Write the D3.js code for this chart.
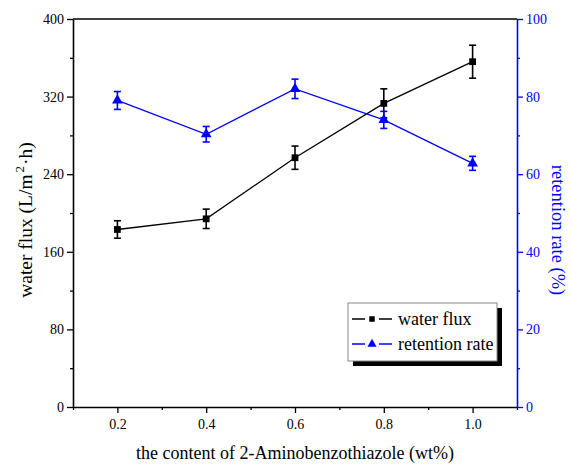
<!DOCTYPE html>
<html>
<head>
<meta charset="utf-8">
<script src="https://cdn.jsdelivr.net/npm/d3@7"></script>
<style>
  body { margin: 0; background: #fff; }
  svg text { font-family: "Liberation Serif", "Times New Roman", serif; }
</style>
</head>
<body>
<div class="graph"></div>
<script>
// data
const contents = [0.2, 0.4, 0.6, 0.8, 1.0];
const waterFlux = [183, 194, 257, 313, 356];
const waterFluxErr = [9, 10, 12, 15, 17];
const retention = [79, 70.3, 82, 74, 62.8];
const retentionErr = [2.3, 2.0, 2.5, 2.2, 1.8];

const xTicks = [0.2, 0.4, 0.6, 0.8, 1.0];
const xMinorTicks = [0.1, 0.3, 0.5, 0.7, 0.9, 1.1];
const leftTicks = [0, 80, 160, 240, 320, 400];
const leftMinorTicks = [40, 120, 200, 280, 360];
const rightTicks = [0, 20, 40, 60, 80, 100];
const rightMinorTicks = [10, 30, 50, 70, 90];

const W = 571, H = 467;
const margin = { top: 19, right: 54, bottom: 60, left: 73 };
const width = W - margin.left - margin.right;
const height = H - margin.top - margin.bottom;
const BLUE = "#0000ff";

const svg = d3.select(".graph").append("svg")
    .attr("width", W).attr("height", H);
const g = svg.append("g")
    .attr("transform", "translate(" + margin.left + "," + margin.top + ")");

const x = d3.scaleLinear().domain([0.1, 1.1]).range([0, width]);
const yL = d3.scaleLinear().domain([0, 400]).range([height, 0]);
const yR = d3.scaleLinear().domain([0, 100]).range([height, 0]);

// top frame line
g.append("line").attr("x1", 0).attr("x2", width).attr("y1", 0).attr("y2", 0)
    .attr("stroke", "#000").attr("stroke-width", 1.6);

function styleAxis(sel, colour) {
    sel.selectAll("path").attr("stroke", colour).attr("stroke-width", 1.6);
    sel.selectAll("line").attr("stroke", colour).attr("stroke-width", 1.3);
    sel.selectAll("text").attr("fill", colour).style("font-size", "14px");
}

// bottom axis
const xAxis = g.append("g").attr("transform", "translate(0," + height + ")")
    .call(d3.axisBottom(x).tickValues(xTicks).tickFormat(d3.format(".1f")).tickSizeInner(6).tickSizeOuter(0).tickPadding(6));
styleAxis(xAxis, "#000");
g.append("g").attr("transform", "translate(0," + height + ")")
    .call(d3.axisBottom(x).tickValues(xMinorTicks).tickFormat("").tickSizeInner(3).tickSizeOuter(0))
    .call(s => { s.select("path").remove(); s.selectAll("line").attr("stroke", "#000").attr("stroke-width", 1.3); });

// left axis
const leftAxis = g.append("g")
    .call(d3.axisLeft(yL).tickValues(leftTicks).tickSizeInner(6).tickSizeOuter(0).tickPadding(3));
styleAxis(leftAxis, "#000");
g.append("g")
    .call(d3.axisLeft(yL).tickValues(leftMinorTicks).tickFormat("").tickSizeInner(3).tickSizeOuter(0))
    .call(s => { s.select("path").remove(); s.selectAll("line").attr("stroke", "#000").attr("stroke-width", 1.3); });

// right axis
const rightAxis = g.append("g").attr("transform", "translate(" + width + ",0)")
    .call(d3.axisRight(yR).tickValues(rightTicks).tickSizeInner(6).tickSizeOuter(0).tickPadding(3));
styleAxis(rightAxis, BLUE);
g.append("g").attr("transform", "translate(" + width + ",0)")
    .call(d3.axisRight(yR).tickValues(rightMinorTicks).tickFormat("").tickSizeInner(3).tickSizeOuter(0))
    .call(s => { s.select("path").remove(); s.selectAll("line").attr("stroke", BLUE).attr("stroke-width", 1.3); });

// axis titles
svg.append("text")
    .attr("x", 295).attr("y", 459).attr("text-anchor", "middle")
    .style("font-size", "18px").text("the content of 2-Aminobenzothiazole (wt%)");

const leftTitle = svg.append("text")
    .attr("transform", "translate(32,220) rotate(-90)")
    .attr("text-anchor", "middle").style("font-size", "19.5px");
leftTitle.append("tspan").text("water flux (L/m");
leftTitle.append("tspan").attr("dx", 2).attr("dy", -8).style("font-size", "13px").text("2");
leftTitle.append("tspan").attr("dx", 1).attr("dy", 8).text("·h)");

svg.append("text")
    .attr("transform", "translate(552,230) rotate(90)")
    .attr("text-anchor", "middle").attr("fill", BLUE).style("font-size", "18.5px")
    .text("retention rate (%)");

// series
function drawSeries(values, errs, y, colour, shape) {
    const pts = contents.map((c, i) => ({ x: c, y: values[i], e: errs[i] }));
    g.append("path").datum(pts)
        .attr("fill", "none").attr("stroke", colour).attr("stroke-width", 1.3)
        .attr("d", d3.line().x(d => x(d.x)).y(d => y(d.y)));

    const eb = g.append("g").selectAll("g").data(pts).enter().append("g")
        .attr("stroke", colour).attr("stroke-width", 1.6);
    eb.append("line").attr("x1", d => x(d.x)).attr("x2", d => x(d.x))
        .attr("y1", d => y(d.y + d.e)).attr("y2", d => y(d.y - d.e));
    eb.append("line").attr("x1", d => x(d.x) - 3.5).attr("x2", d => x(d.x) + 3.5)
        .attr("y1", d => y(d.y + d.e)).attr("y2", d => y(d.y + d.e));
    eb.append("line").attr("x1", d => x(d.x) - 3.5).attr("x2", d => x(d.x) + 3.5)
        .attr("y1", d => y(d.y - d.e)).attr("y2", d => y(d.y - d.e));

    g.append("g").selectAll("path").data(pts).enter().append("path")
        .attr("transform", d => "translate(" + x(d.x) + "," + y(d.y) + ")")
        .attr("d", d3.symbol().type(shape).size(shape === d3.symbolSquare ? 46 : 50))
        .attr("fill", colour);
}

drawSeries(waterFlux, waterFluxErr, yL, "#000", d3.symbolSquare);
drawSeries(retention, retentionErr, yR, BLUE, d3.symbolTriangle);

// legend
const legend = svg.append("g").attr("transform", "translate(348,303)");
legend.append("rect").attr("x", 5).attr("y", 5).attr("width", 149).attr("height", 58).attr("fill", "#000");
legend.append("rect").attr("x", 0).attr("y", 0).attr("width", 149).attr("height", 58)
    .attr("fill", "#fff").attr("stroke", "#888").attr("stroke-width", 1);

const legendItems = [
    { label: "water flux", colour: "#000", shape: d3.symbolSquare },
    { label: "retention rate", colour: BLUE, shape: d3.symbolTriangle }
];
legendItems.forEach((it, i) => {
    const cy = 16 + i * 25;
    legend.append("line").attr("x1", 4).attr("x2", 44).attr("y1", cy).attr("y2", cy)
        .attr("stroke", it.colour).attr("stroke-width", 1.3);
    legend.append("rect").attr("x", 17).attr("y", cy - 3).attr("width", 14).attr("height", 6).attr("fill", "#fff");
    legend.append("path").attr("transform", "translate(24," + cy + ")")
        .attr("d", d3.symbol().type(it.shape).size(it.shape === d3.symbolSquare ? 30 : 36))
        .attr("fill", it.colour);
    legend.append("text").attr("x", 50).attr("y", cy + 6)
        .style("font-size", "18px").text(it.label);
});
</script>
</body>
</html>
